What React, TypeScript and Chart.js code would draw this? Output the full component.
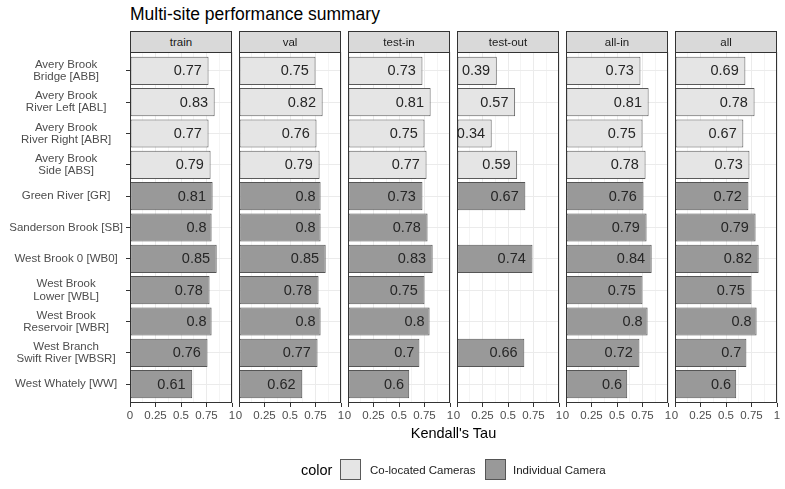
import React, { useEffect, useRef } from 'react';
import { Chart, registerables } from 'chart.js';

Chart.register(...registerables);

const FONT = '"Liberation Sans", Arial, Helvetica, sans-serif';

const SITES: string[][] = [
  ['Avery Brook', 'Bridge [ABB]'],
  ['Avery Brook', 'River Left [ABL]'],
  ['Avery Brook', 'River Right [ABR]'],
  ['Avery Brook', 'Side [ABS]'],
  ['Green River [GR]'],
  ['Sanderson Brook [SB]'],
  ['West Brook 0 [WB0]'],
  ['West Brook', 'Lower [WBL]'],
  ['West Brook', 'Reservoir [WBR]'],
  ['West Branch', 'Swift River [WBSR]'],
  ['West Whately [WW]'],
];

const SITE_GROUP: string[] = [
  'Co-located Cameras', 'Co-located Cameras', 'Co-located Cameras', 'Co-located Cameras',
  'Individual Camera', 'Individual Camera', 'Individual Camera', 'Individual Camera',
  'Individual Camera', 'Individual Camera', 'Individual Camera',
];

const GROUPS = ['Co-located Cameras', 'Individual Camera'];
const GROUP_FILL = ['#E5E5E5', '#999999'];
const GROUP_EDGE = ['#5A5A5A', '#555555'];

const PANELS = ['train', 'val', 'test-in', 'test-out', 'all-in', 'all'];

const TRAIN: (number | null)[] = [0.77, 0.83, 0.77, 0.79, 0.81, 0.8, 0.85, 0.78, 0.8, 0.76, 0.61];
const VAL: (number | null)[] = [0.75, 0.82, 0.76, 0.79, 0.8, 0.8, 0.85, 0.78, 0.8, 0.77, 0.62];
const TEST_IN: (number | null)[] = [0.73, 0.81, 0.75, 0.77, 0.73, 0.78, 0.83, 0.75, 0.8, 0.7, 0.6];
const TEST_OUT: (number | null)[] = [0.39, 0.57, 0.34, 0.59, 0.67, null, 0.74, null, null, 0.66, null];
const ALL_IN: (number | null)[] = [0.73, 0.81, 0.75, 0.78, 0.76, 0.79, 0.84, 0.75, 0.8, 0.72, 0.6];
const ALL: (number | null)[] = [0.69, 0.78, 0.67, 0.73, 0.72, 0.79, 0.82, 0.75, 0.8, 0.7, 0.6];

const PANEL_VALUES = [TRAIN, VAL, TEST_IN, TEST_OUT, ALL_IN, ALL];

const X_TICKS = [0, 0.25, 0.5, 0.75, 1];
const X_TICK_LABELS = ['0', '0.25', '0.5', '0.75', '1'];
const X_MINOR = [0.125, 0.375, 0.625, 0.875];

const PANEL_LEFT0 = 130;
const PANEL_W = 102;
const PANEL_STEP = 109;
const PANEL_TOP = 52;
const PANEL_BOTTOM = 403;
const CANVAS_TOP = 32;
const X_AXIS_H = 25;

const isMajor = (v: number) => X_TICKS.indexOf(v) >= 0;

const panelPlugin = {
  id: 'panelDecor',
  afterDatasetsDraw(chart: any) {
    const { ctx, chartArea } = chart;
    ctx.save();
    ctx.beginPath();
    ctx.rect(chartArea.left, chartArea.top, chartArea.right - chartArea.left, chartArea.bottom - chartArea.top);
    ctx.clip();
    ctx.font = `14.5px ${FONT}`;
    ctx.fillStyle = '#262626';
    ctx.textAlign = 'right';
    ctx.textBaseline = 'middle';
    chart.data.datasets.forEach((ds: any, di: number) => {
      const meta = chart.getDatasetMeta(di);
      meta.data.forEach((el: any, j: number) => {
        const v = ds.data[j].x;
        const t = String(v);
        const w = ctx.measureText(t).width;
        ctx.fillText(t, el.x - 0.2 * w - 1, el.y + 0.5);
      });
    });
    ctx.restore();
    ctx.save();
    ctx.strokeStyle = '#333333';
    ctx.lineWidth = 1;
    ctx.strokeRect(
      chartArea.left + 0.5,
      chartArea.top + 0.5,
      chartArea.right - chartArea.left - 1,
      chartArea.bottom - chartArea.top - 1
    );
    ctx.restore();
  },
};

function Panel({ idx }: { idx: number }) {
  const ref = useRef<HTMLCanvasElement | null>(null);
  const first = idx === 0;
  const panelLeft = PANEL_LEFT0 + idx * PANEL_STEP;
  const canvasLeft = first ? 0 : panelLeft - 10;
  const canvasW = panelLeft + PANEL_W + 10 - canvasLeft;
  const canvasH = PANEL_BOTTOM + X_AXIS_H - CANVAS_TOP;

  useEffect(() => {
    if (!ref.current) return;
    const values = PANEL_VALUES[idx];
    const datasets = GROUPS.map((g, gi) => ({
      label: g,
      data: values
        .map((v, i) => ({ x: v, y: i, g: SITE_GROUP[i] }))
        .filter((p) => p.x != null && p.g === g),
      backgroundColor: GROUP_FILL[gi],
      borderColor: GROUP_EDGE[gi],
      borderWidth: 1,
      borderSkipped: false,
      grouped: false,
      categoryPercentage: 1,
      barPercentage: 0.9,
    }));
    const chart = new Chart(ref.current, {
      type: 'bar',
      data: { datasets } as any,
      plugins: [panelPlugin],
      options: {
        indexAxis: 'y',
        animation: false,
        responsive: false,
        maintainAspectRatio: false,
        layout: { padding: { left: first ? 0 : 10, right: 10, top: PANEL_TOP - CANVAS_TOP, bottom: 0 } },
        plugins: {
          legend: { display: false },
          tooltip: { enabled: false },
          title: { display: false },
        },
        scales: {
          x: {
            type: 'linear',
            position: 'bottom',
            min: 0,
            max: 1,
            bounds: 'data',
            offset: false,
            afterBuildTicks: (s: any) => {
              s.ticks = [...X_TICKS, ...X_MINOR].sort((a, b) => a - b).map((v) => ({ value: v }));
            },
            afterFit: (s: any) => {
              s.height = X_AXIS_H;
            },
            border: { display: false },
            grid: {
              offset: false,
              color: (c: any) => (c.tick && isMajor(c.tick.value) ? '#EBEBEB' : '#F4F4F4'),
              lineWidth: 1,
              drawTicks: true,
              tickLength: 4,
              tickColor: (c: any) => (c.tick && isMajor(c.tick.value) ? '#333333' : 'rgba(0,0,0,0)'),
              tickWidth: 1,
            },
            ticks: {
              autoSkip: false,
              maxRotation: 0,
              minRotation: 0,
              padding: 2,
              color: '#4D4D4D',
              font: { family: FONT, size: 11.5 },
              callback: (v: any) => {
                const k = X_TICKS.indexOf(Number(v));
                return k >= 0 ? X_TICK_LABELS[k] : '';
              },
            },
          },
          y: {
            type: 'linear',
            reverse: true,
            min: -0.6,
            max: SITES.length - 1 + 0.6,
            bounds: 'data',
            offset: false,
            afterBuildTicks: (s: any) => {
              s.ticks = SITES.map((_, i) => ({ value: i }));
            },
            afterFit: (s: any) => {
              s.width = first ? PANEL_LEFT0 : 0;
            },
            border: { display: false },
            grid: {
              offset: false,
              color: '#EBEBEB',
              lineWidth: 1,
              drawTicks: first,
              tickLength: 4,
              tickColor: '#333333',
            },
            ticks: {
              display: first,
              autoSkip: false,
              crossAlign: 'center',
              padding: 3,
              color: '#4D4D4D',
              font: { family: FONT, size: 11.5, lineHeight: 1.07 },
              callback: (v: any) => SITES[Number(v)] as any,
            },
          },
        },
      } as any,
    });
    return () => chart.destroy();
  }, [idx]);

  return (
    <canvas
      ref={ref}
      width={canvasW}
      height={canvasH}
      style={{ position: 'absolute', left: canvasLeft, top: CANVAS_TOP, width: canvasW, height: canvasH }}
    />
  );
}

export default function App() {
  return (
    <div
      style={{
        position: 'absolute',
        left: 0,
        top: 0,
        width: 785,
        height: 489,
        background: '#ffffff',
        fontFamily: FONT,
        overflow: 'hidden',
      }}
    >
      <div
        style={{
          position: 'absolute',
          left: 130,
          top: 6,
          fontSize: 17.5,
          lineHeight: '17.5px',
          color: '#000',
          whiteSpace: 'nowrap',
        }}
      >
        Multi-site performance summary
      </div>
      {PANELS.map((p, i) => (
        <Panel key={p} idx={i} />
      ))}
      {PANELS.map((p, i) => (
        <div
          key={'s' + p}
          style={{
            position: 'absolute',
            left: PANEL_LEFT0 + i * PANEL_STEP,
            top: 31,
            width: PANEL_W,
            height: 22,
            boxSizing: 'border-box',
            border: '1px solid #333333',
            background: '#D9D9D9',
            color: '#1A1A1A',
            fontSize: 11.5,
            lineHeight: '20px',
            textAlign: 'center',
          }}
        >
          {p}
        </div>
      ))}
      <div
        style={{
          position: 'absolute',
          left: PANEL_LEFT0,
          width: PANEL_LEFT0 + 5 * PANEL_STEP + PANEL_W - PANEL_LEFT0,
          top: 426,
          fontSize: 14.5,
          lineHeight: '14.5px',
          textAlign: 'center',
          color: '#000',
        }}
      >
        Kendall's Tau
      </div>
      <div style={{ position: 'absolute', left: 301, top: 462.5, fontSize: 14.5, lineHeight: '14.5px', color: '#000' }}>
        color
      </div>
      {GROUPS.map((g, gi) => (
        <React.Fragment key={g}>
          <div
            style={{
              position: 'absolute',
              left: gi === 0 ? 340 : 485,
              top: 459,
              width: 21,
              height: 21,
              boxSizing: 'border-box',
              border: `1px solid ${GROUP_EDGE[gi]}`,
              background: GROUP_FILL[gi],
            }}
          />
          <div
            style={{
              position: 'absolute',
              left: gi === 0 ? 370 : 513,
              top: 464.8,
              fontSize: 11.5,
              lineHeight: '11.5px',
              color: '#1A1A1A',
              whiteSpace: 'nowrap',
            }}
          >
            {g}
          </div>
        </React.Fragment>
      ))}
    </div>
  );
}
